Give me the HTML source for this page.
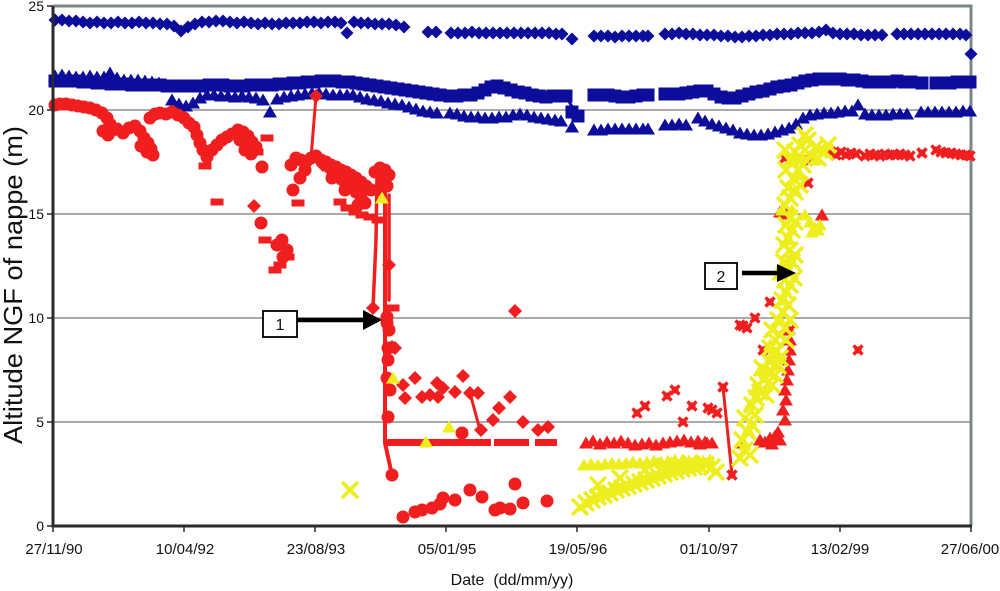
<!DOCTYPE html>
<html><head><meta charset="utf-8"><style>
html,body{margin:0;padding:0;background:#fff;}
svg{display:block;}
polyline.m{fill:none;stroke:none;}
.bd{marker:url(#bd)}.bs{marker:url(#bs)}.bt{marker:url(#bt)}
.rc{marker:url(#rc)}.rd{marker:url(#rd)}.rs{marker:url(#rs)}.rx{marker:url(#rx)}.rt{marker:url(#rt)}
.yt{marker:url(#yt)}.yx{marker:url(#yx)}
text{font-family:"Liberation Sans",Arial,sans-serif;fill:#111;}
</style></head><body>
<svg width="1000" height="591" viewBox="0 0 1000 591" xmlns="http://www.w3.org/2000/svg">
<defs>
<marker id="bd" viewBox="-10 -10 20 20" markerWidth="20" markerHeight="20" refX="0" refY="0" markerUnits="userSpaceOnUse"><path d="M0,-6.5L6.5,0L0,6.5L-6.5,0Z" fill="#0d0d9b"/></marker>
<marker id="bs" viewBox="-10 -10 20 20" markerWidth="20" markerHeight="20" refX="0" refY="0" markerUnits="userSpaceOnUse"><rect x="-6.5" y="-6.5" width="13" height="13" fill="#0d0d9b"/></marker>
<marker id="bt" viewBox="-10 -10 20 20" markerWidth="20" markerHeight="20" refX="0" refY="0" markerUnits="userSpaceOnUse"><path d="M0,-6.5L7,5.5L-7,5.5Z" fill="#0d0d9b"/></marker>
<marker id="rc" viewBox="-10 -10 20 20" markerWidth="20" markerHeight="20" refX="0" refY="0" markerUnits="userSpaceOnUse"><circle r="6.5" fill="#f01e1e"/></marker>
<marker id="rd" viewBox="-10 -10 20 20" markerWidth="20" markerHeight="20" refX="0" refY="0" markerUnits="userSpaceOnUse"><path d="M0,-7L7,0L0,7L-7,0Z" fill="#f01e1e"/></marker>
<marker id="rs" viewBox="-10 -10 20 20" markerWidth="20" markerHeight="20" refX="0" refY="0" markerUnits="userSpaceOnUse"><rect x="-6.5" y="-3.5" width="13" height="7" fill="#f01e1e"/></marker>
<marker id="rx" viewBox="-10 -10 20 20" markerWidth="20" markerHeight="20" refX="0" refY="0" markerUnits="userSpaceOnUse"><path d="M-4.5,-4.5L4.5,4.5M4.5,-4.5L-4.5,4.5" stroke="#f01e1e" stroke-width="3.4"/><rect x="-3.5" y="-3.5" width="7" height="7" fill="#f01e1e"/></marker>
<marker id="rt" viewBox="-10 -10 20 20" markerWidth="20" markerHeight="20" refX="0" refY="0" markerUnits="userSpaceOnUse"><path d="M0,-6.5L7,5.5L-7,5.5Z" fill="#f01e1e"/></marker>
<marker id="yt" viewBox="-10 -10 20 20" markerWidth="20" markerHeight="20" refX="0" refY="0" markerUnits="userSpaceOnUse"><path d="M0,-6.5L7,5.5L-7,5.5Z" fill="#eeee1e"/></marker>
<marker id="yx" viewBox="-10 -10 20 20" markerWidth="20" markerHeight="20" refX="0" refY="0" markerUnits="userSpaceOnUse"><path d="M-8,-8L8,8M8,-8L-8,8" stroke="#eeee1e" stroke-width="3.6"/></marker>
</defs>
<rect width="1000" height="591" fill="#fff"/>

<!-- gridlines -->
<g stroke="#555" stroke-width="1.1">
<line x1="53" y1="110" x2="971" y2="110"/>
<line x1="53" y1="214" x2="971" y2="214"/>
<line x1="53" y1="318" x2="971" y2="318"/>
<line x1="53" y1="422" x2="971" y2="422"/>
</g>
<!-- frame -->
<polyline points="53,6 971,6 971,526" fill="none" stroke="#7b8787" stroke-width="3"/>

<!-- blue diamonds -->
<polyline class="m bd" points="55,20 62,20 69,21 76,21 83,22 90,23 97,22 104,23 111,23 118,22 125,23 132,23 139,22 146,23 153,23 160,24 167,24 174,26 181,31 188,27 195,24 202,22 209,22 216,21 223,21 230,22 237,23 244,22 251,23 258,24 265,23 272,24 279,24 286,23 293,23 300,23 307,22 314,22 321,23 328,22 335,22 341,23 347,33 354,22 361,23 368,23 375,24 382,24 389,24 396,25 404,27"/>
<polyline class="m bd" points="428,32 436,32"/>
<polyline class="m bd" points="451,33 458,33 465,33 472,32 479,33 486,33 493,33 500,33 507,33 514,33 521,33 528,33 535,33 542,33 549,33 556,34 562,34 572,39"/>
<polyline class="m bd" points="594,36 601,36 608,36 615,37 622,36 629,36 636,36 643,36 648,36"/>
<polyline class="m bd" points="665,34 672,34 679,33 686,34 693,34 700,35 707,35 714,35 721,36 728,36 735,37 742,37 749,36 756,36 763,35 770,35 777,34 784,34 791,34 798,33 805,33 812,33 819,32 826,30 833,33 840,34 847,34 854,34 861,35 868,35 875,35 882,35"/>
<polyline class="m bd" points="897,34 904,34 911,34 918,34 925,34 932,34 939,34 946,34 953,34 960,34 966,35 971,54"/>

<!-- blue squares -->
<polyline class="m bs" points="55,81 62,81 69,81 76,81 83,82 90,82 97,83 104,83 111,84 118,84 125,84 132,85 139,85 146,85 153,85 160,85 167,86 174,86 181,86 188,86 195,86 202,86 209,85 216,85 223,85 230,86 237,86 244,86 251,85 258,85 265,85 272,85 279,84 286,84 293,83 300,83 307,82 314,82 321,81 328,81 335,81 342,82 349,82 356,83 363,84 370,85 377,86 384,87 391,88 398,89 405,90 412,91 419,92 426,93 433,94 440,95"/>
<polyline class="m bs" points="450,96 457,96 464,95 471,95 478,93 485,90 491,87 497,86 504,88 511,90 518,92 525,93 532,95 539,96 546,97 553,96 560,96 566,96 572,112 578,116"/>
<line x1="566" y1="96" x2="576" y2="114" stroke="#0d0d9b" stroke-width="3"/>
<polyline class="m bs" points="594,95 601,95 608,95 615,96 622,97 629,97 636,96 643,95 648,95"/>
<polyline class="m bs" points="665,94 672,94 679,94 686,93 693,92 700,91 707,91 714,94 721,97 728,98 735,98 742,96 749,94 756,92 763,91 770,89 777,87 784,86 791,85 798,83 805,81 812,80 819,79 826,79 833,79 840,79 847,80 854,80"/>
<polyline class="m bs" points="862,81 869,82 876,82 883,82 890,82 897,81 904,82 911,82"/>
<polyline class="m bs" points="922,83 922,83"/>
<polyline class="m bs" points="936,83 943,83 950,83 957,82 964,82 970,82"/>

<!-- blue triangles -->
<polyline class="m bt" points="55,76 62,75 69,76 76,77 83,77 90,76 97,77 104,77 110,73 117,78 124,80 131,80 138,80 145,81 152,82 159,83 172,100 179,104 186,106 193,103 200,98 207,95 214,95 221,96 228,96 235,97 242,96 249,97 256,98 263,100 270,112 277,99 284,97 291,96 298,95 305,94 312,93 319,93 326,94 333,95 340,95 347,95 353,95 360,97 367,99 374,100 381,101 388,103 395,104 402,105 409,107 416,109 423,111 430,112 437,113"/>
<polyline class="m bt" points="450,113 457,114 464,116 471,117 478,117 485,118 492,118 499,117 506,117 513,115 520,114 527,115 534,117 541,118 548,119 555,120 561,121 572,127"/>
<polyline class="m bt" points="594,130 601,130 608,129 615,129 622,129 629,129 636,129 643,129 648,129"/>
<polyline class="m bt" points="665,125 672,125 679,124 686,125"/>
<polyline class="m bt" points="698,118 705,121 712,124 719,126 726,128 733,130 740,133 747,134 754,135 761,135 768,134 775,132 782,130 789,128 796,124 803,118 810,115 817,114 824,113 831,113 838,112 845,111 852,111 858,105 865,114 872,115 879,115 886,115 893,114 900,114 907,114"/>
<polyline class="m bt" points="921,112 928,112 935,112 942,112 949,112 956,112 963,111 970,111"/>

<!-- red lines -->
<g stroke="#f01e1e" fill="none" stroke-linecap="round">
<line x1="316" y1="96" x2="311" y2="158" stroke-width="3"/>
<polyline points="377,175 376,240 373,308" stroke-width="3.5"/>
<polyline points="385,172 385,443 392,475" stroke-width="4"/>
<line x1="389" y1="195" x2="389" y2="300" stroke-width="3.5"/>
<line x1="470" y1="393" x2="480" y2="430" stroke-width="3"/>
<line x1="723" y1="387" x2="732" y2="475" stroke-width="3"/>
</g>
<g fill="#f01e1e">
<rect x="385" y="439" width="106" height="7"/>
<rect x="494" y="439" width="35" height="7"/>
<rect x="535" y="439" width="22" height="7"/>
</g>

<!-- red circles -->
<polyline class="m rc" points="55,105 60,104 66,104 72,105 78,106 84,107 90,108 96,110 102,113 107,118 110,124 113,130 108,135 103,131 117,129 123,133 129,128 135,126 140,131 144,138 148,143 151,149 153,155 147,152 141,146 150,118 155,114 160,113 166,114 172,112 178,115 184,118 189,123 194,127 197,135 200,143 203,150 207,157 212,150 217,145 222,140 227,137 232,134 238,130 243,132 248,136 252,142 256,147 251,154 245,150 240,140"/>
<polyline class="m rc" points="262,167 261,223 277,245 282,240 287,250 283,257 293,190"/>
<polyline class="m rc" points="291,165 296,158 301,160 306,162 311,158 316,156 321,160 326,162 331,165 336,167 341,170 346,172 351,175 356,178 361,182 366,186 371,190 351,185 356,192 361,197 365,203 358,205 345,190 332,178 305,170 300,178 375,172 380,168 385,170 389,175 383,180 387,186 378,190"/>
<polyline class="m rc" points="387,317 387,323 389,330 388,348 388,360 387,378 390,390 388,417 462,433 392,475"/>
<polyline class="m rc" points="403,517 415,512 422,510 432,508 440,504 443,498 455,500 470,490 482,497 495,510 500,508 510,509 515,484 523,503 547,501"/>
<!-- red diamonds -->
<polyline class="m rd" points="254,206 316,96 323,165 330,170 338,178 344,183"/>
<polyline class="m rd" points="389,265 373,308 392,347 395,348 403,385 405,398 415,378 422,397 430,395 437,383 438,397 443,388 455,392 463,376 470,393 478,393 481,430 493,420 499,408 510,397 523,422 538,430 548,427 515,311"/>
<!-- red dashes -->
<polyline class="m rs" points="205,166 217,202 257,152 267,138 265,240 288,257 280,265 275,270 298,203 340,202 347,208 355,212 362,215 370,217 378,220 393,308"/>
<!-- red triangles -->
<polyline class="m rt" points="586,443 593,441 600,444 607,442 614,443 621,441 628,443 635,445 642,444 649,443 656,445 663,443 670,442 677,441 684,440 691,442 698,441 705,442 712,443"/>
<polyline class="m rt" points="700,444 707,443 743,443 760,440 765,442 770,438 775,436 778,432 780,440 785,420 783,410 786,400 785,390 787,380 788,370 789,360 790,350 790,340 787,330 777,440 772,444 780,212 786,214"/>
<polyline class="m rt" points="822,215 822,215"/>
<!-- red stars -->
<polyline class="m rx" points="637,413 645,406 667,396 675,390 683,422 692,406 708,408 712,410 717,413 723,387 732,475 740,325 743,326 747,328 755,318 763,350 770,302 790,330 858,350 785,158 808,183 810,160"/>
<polyline class="m rx" points="831,152 836,155 841,152 846,155 851,153 856,154 865,156 870,154 875,155 880,156 885,154 890,155 895,155 900,154 905,155 910,156 922,153 922,153 936,150 941,152 946,153 951,153 956,154 961,155 966,155 970,156"/>

<!-- yellow -->
<polyline class="m yt" points="584,465 591,464 598,465 605,464 612,463 619,464 626,463 633,462 640,463 647,462 654,461 661,462 668,461 675,460 682,461 689,461 696,460 703,461 710,460"/>
<polyline class="m yx" points="580,507 586,503 592,500 598,497 604,495 610,493 616,490 622,488 628,486 634,484 640,482 646,480 652,478 658,476 664,474 670,472 676,471 682,469 688,468 694,467 700,466 706,465 712,467 716,472 598,485 620,478 645,470 665,466 690,463"/>
<polyline class="m yx" points="350,490 350,490"/>
<polyline class="m yt" points="382,198 393,378 426,442 449,427"/>
<polyline class="m yx" points="740,458 745,450 750,455 742,440 748,432 752,425 745,418 755,415 752,405 756,398 760,392 758,385 764,380 768,372 762,368 770,362 773,355 776,350 766,395 772,385 775,375 778,366 780,358 770,348 775,340 780,335 785,328 772,330 778,320 783,312 788,305 790,320 786,340 782,300 786,292 790,285 794,278 785,280 788,270 792,262 795,255 784,262 790,250 784,245 788,238 792,230 786,225 790,218 795,222 785,205 790,198 795,192 800,185 788,188 793,178 798,170 803,165 786,170 790,160 795,152 800,145 805,150 810,155 785,150 808,140 815,148 820,150 825,152 828,145 818,158 805,135"/>
<polyline class="m yt" points="805,215 810,222 815,228 820,225 812,232 818,230 790,260 788,240 792,210 784,300 780,320 770,345 760,370 755,390 750,405 748,430 745,445 778,275 795,190 800,175 782,210 793,160 803,158 815,160"/>

<!-- axes -->
<line x1="53" y1="6" x2="53" y2="527.5" stroke="#2a2a2a" stroke-width="3"/>
<line x1="51.5" y1="526" x2="972" y2="526" stroke="#2a2a2a" stroke-width="3"/>
<g stroke="#2a2a2a" stroke-width="1.5">
<line x1="47" y1="6" x2="53" y2="6"/><line x1="47" y1="110" x2="53" y2="110"/><line x1="47" y1="214" x2="53" y2="214"/><line x1="47" y1="318" x2="53" y2="318"/><line x1="47" y1="422" x2="53" y2="422"/><line x1="47" y1="526" x2="53" y2="526"/>
<line x1="53" y1="526" x2="53" y2="532"/><line x1="184" y1="526" x2="184" y2="532"/><line x1="315" y1="526" x2="315" y2="532"/><line x1="446" y1="526" x2="446" y2="532"/><line x1="577" y1="526" x2="577" y2="532"/><line x1="709" y1="526" x2="709" y2="532"/><line x1="840" y1="526" x2="840" y2="532"/><line x1="971" y1="526" x2="971" y2="532"/>
</g>

<!-- y tick labels -->
<g font-size="14" text-anchor="end">
<text x="44" y="11">25</text>
<text x="44" y="115">20</text>
<text x="44" y="219">15</text>
<text x="44" y="323">10</text>
<text x="44" y="427">5</text>
<text x="44" y="531">0</text>
</g>
<!-- x tick labels -->
<g font-size="15" text-anchor="middle">
<text x="54" y="554">27/11/90</text>
<text x="185" y="554">10/04/92</text>
<text x="316" y="554">23/08/93</text>
<text x="447" y="554">05/01/95</text>
<text x="578" y="554">19/05/96</text>
<text x="709" y="554">01/10/97</text>
<text x="840" y="554">13/02/99</text>
<text x="970" y="554">27/06/00</text>
</g>
<text x="512" y="585" font-size="16" text-anchor="middle" xml:space="preserve">Date  (dd/mm/yy)</text>
<text transform="translate(22,285) rotate(-90)" font-size="26" text-anchor="middle" textLength="318" lengthAdjust="spacingAndGlyphs">Altitude NGF of nappe (m)</text>

<!-- annotations -->
<rect x="263" y="311" width="34" height="26" fill="#fff" stroke="#000" stroke-width="1.8"/>
<text x="280" y="330" font-size="16" text-anchor="middle">1</text>
<line x1="297" y1="320" x2="366" y2="320" stroke="#000" stroke-width="4.5"/>
<path d="M363,310 L382,320 L363,330Z" fill="#000"/>
<rect x="705" y="263" width="32" height="26" fill="#fff" stroke="#000" stroke-width="1.8"/>
<text x="721" y="282" font-size="16" text-anchor="middle">2</text>
<line x1="742" y1="273" x2="780" y2="273" stroke="#000" stroke-width="4.5"/>
<path d="M777,264 L796,273 L777,282Z" fill="#000"/>
</svg>
</body></html>
